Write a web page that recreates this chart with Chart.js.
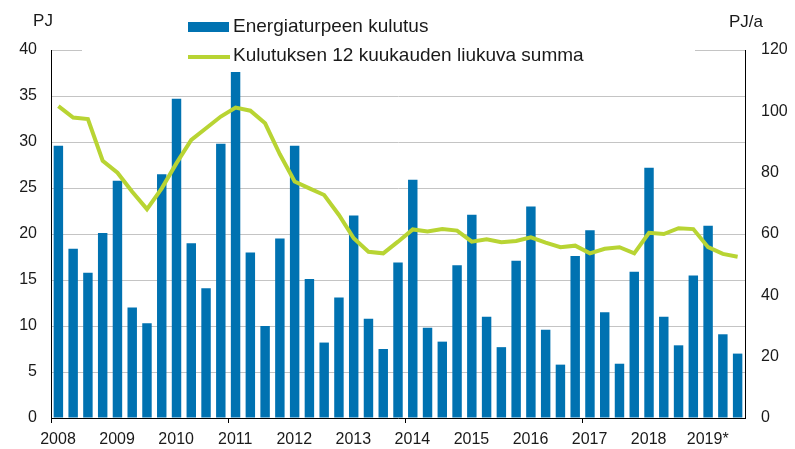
<!DOCTYPE html>
<html>
<head>
<meta charset="utf-8">
<script src="https://cdn.jsdelivr.net/npm/chart.js@4/dist/chart.umd.min.js"></script>
<style>
    body { margin: 0; background: #fff; }
    #wrap { width: 795px; height: 449px; }
</style>
</head>
<body>
<div id="wrap"><canvas id="turveChart"></canvas></div>
<script>
// Vuodet (x-akselin otsikot)
const vuodet = ['2008', '2009', '2010', '2011', '2012', '2013', '2014', '2015', '2016', '2017', '2018', '2019*'];

// Neljännekset 2008 I - 2019 III
const neljannekset = vuodet.flatMap(v => ['I', 'II', 'III', 'IV'].map(q => v + ' ' + q)).slice(0, 47);

// Energiaturpeen kulutus, PJ
const kulutus = [
    29.6, 18.4, 15.8, 20.1,
    25.8, 12.0, 10.3, 26.5,
    34.7, 19.0, 14.1, 29.8,
    37.6, 18.0, 10.0, 19.5,
    29.6, 15.1, 8.2, 13.1,
    22.0, 10.8, 7.5, 16.9,
    25.9, 9.8, 8.3, 16.6,
    22.1, 11.0, 7.7, 17.1,
    23.0, 9.6, 5.8, 17.6,
    20.4, 11.5, 5.9, 15.9,
    27.2, 11.0, 7.9, 15.5,
    20.9, 9.1, 7.0
];

// Kulutuksen 12 kuukauden liukuva summa, PJ/a
const liukuvaSumma = [
    101.7, 98.0, 97.5, 83.9,
    80.0, 73.8, 68.1, 74.9,
    83.1, 90.7, 94.5, 98.3,
    101.2, 100.2, 96.1, 86.0,
    77.1, 74.9, 72.7, 66.2,
    58.6, 54.2, 53.7, 57.5,
    61.5, 60.8, 61.6, 61.1,
    57.5, 58.3, 57.3, 57.7,
    58.9, 57.2, 55.7, 56.2,
    53.7, 55.2, 55.7, 53.7,
    60.4, 60.0, 61.9, 61.6,
    55.7, 53.5, 52.6
];

const sininen = '#0072b1';
const vihrea = '#b8d433';
const fontti = 'Liberation Sans, Arial, sans-serif';

// Selite ja akseleiden yksiköt
const selitePlugin = {
    id: 'selite',
    beforeDatasetsDraw(chart) {
        // selitelaatikon valkoinen tausta peittää ylimmän apuviivan
        const ctx = chart.ctx;
        ctx.save();
        ctx.fillStyle = '#fff';
        ctx.fillRect(82, chart.chartArea.top - 2, 613, 4);
        ctx.restore();
    },
    afterDraw(chart) {
        const ctx = chart.ctx;
        ctx.save();
        ctx.textBaseline = 'middle';

        ctx.fillStyle = sininen;
        ctx.fillRect(188, 22, 41, 10);
        ctx.strokeStyle = vihrea;
        ctx.lineWidth = 4;
        ctx.beginPath();
        ctx.moveTo(188, 57);
        ctx.lineTo(230, 57);
        ctx.stroke();

        ctx.fillStyle = '#1a1a1a';
        ctx.font = '19px ' + fontti;
        ctx.textAlign = 'left';
        ctx.fillText(chart.data.datasets[0].label, 233, 27);
        ctx.fillText(chart.data.datasets[1].label, 233, 56);

        ctx.font = '17px ' + fontti;
        ctx.textAlign = 'center';
        ctx.fillText('PJ', 43, 21);
        ctx.fillText('PJ/a', 746, 22);
        ctx.restore();
    }
};

new Chart(document.getElementById('turveChart'), {
    type: 'bar',
    data: {
        labels: neljannekset,
        datasets: [{
            label: 'Energiaturpeen kulutus',
            data: kulutus,
            backgroundColor: sininen,
            barPercentage: 0.64,
            categoryPercentage: 1,
            yAxisID: 'y',
            order: 2
        }, {
            type: 'line',
            label: 'Kulutuksen 12 kuukauden liukuva summa',
            data: liukuvaSumma,
            borderColor: vihrea,
            borderWidth: 4,
            pointRadius: 0,
            tension: 0,
            yAxisID: 'y1',
            order: 1
        }]
    },
    options: {
        responsive: true,
        maintainAspectRatio: false,
        animation: false,
        layout: { padding: { top: 50, left: 0, right: 0, bottom: 0 } },
        plugins: {
            legend: { display: false },
            tooltip: { enabled: false }
        },
        scales: {
            x: {
                display: false,
                offset: true
            },
            vuosi: {
                type: 'linear',
                position: 'bottom',
                min: 0,
                max: neljannekset.length,
                offset: false,
                afterFit: (scale) => { scale.height = 31; },
                grid: {
                    offset: false,
                    drawOnChartArea: false,
                    tickLength: 5,
                    // väliviiva joka kolmas vuosi
                    color: (c) => (c.tick && c.tick.value % 12 === 0) ? '#000' : 'rgba(0,0,0,0)'
                },
                border: { color: '#000' },
                ticks: {
                    stepSize: 4,
                    includeBounds: false,
                    autoSkip: false,
                    maxRotation: 0,
                    padding: 7,
                    labelOffset: 7,
                    color: '#1a1a1a',
                    font: { family: fontti, size: 16 },
                    callback: (value) => vuodet[value / 4]
                }
            },
            y: {
                position: 'left',
                min: 0,
                max: 40,
                afterFit: (scale) => { scale.width = 51; },
                grid: { color: '#c4c4c4', drawTicks: false },
                border: { color: '#000' },
                ticks: {
                    stepSize: 5,
                    padding: 14,
                    color: '#1a1a1a',
                    font: { family: fontti, size: 16 }
                }
            },
            y1: {
                position: 'right',
                min: 0,
                max: 120,
                afterFit: (scale) => { scale.width = 50; },
                grid: { drawOnChartArea: false, drawTicks: false },
                border: { color: '#000' },
                ticks: {
                    stepSize: 20,
                    padding: 16,
                    color: '#1a1a1a',
                    font: { family: fontti, size: 16 }
                }
            }
        }
    },
    plugins: [selitePlugin]
});
</script>
</body>
</html>
